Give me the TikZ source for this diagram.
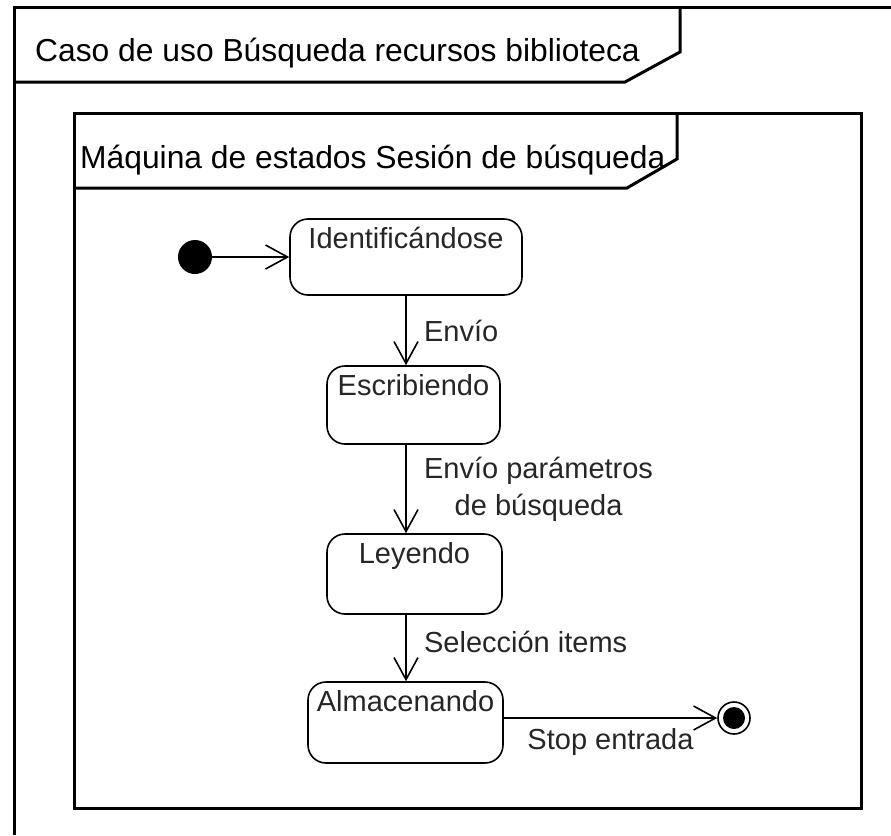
\documentclass[tikz,border=0pt]{standalone}
\usepackage{fontspec}
\setmainfont{Liberation Sans}
\usetikzlibrary{arrows.meta, positioning}

\begin{document}
\begin{tikzpicture}[x=1pt, y=-1pt, >={Straight Barb[length=22pt, width=24pt]},
  frame/.style={line width=3pt},
  titletext/.style={anchor=base west, inner sep=0pt, font=\fontsize{31.8}{36}\selectfont},
  state/.style={draw, line width=1.6pt, rounded corners=18pt, inner sep=0pt},
  statename/.style={anchor=base, yshift=-30pt, font=\fontsize{29}{34}\selectfont, text=black!85},
  trans/.style={->, line width=1.6pt},
  translabel/.style={font=\fontsize{29}{37}\selectfont, text=black!85, align=center}]
  \useasboundingbox (0,0) rectangle (891,835);
  % outer frame with its tab
  \draw[frame] (891,7) -- (14,7) -- (14,835);
  \draw[frame] (14,82) -- (625,82) -- (680,52) -- (680,7);
  \node[titletext] (caso) at (35,61) {Caso de uso Búsqueda recursos biblioteca};
  % state machine frame
  \draw[frame] (74,113) rectangle (861,808);
  \draw[frame] (74,188) -- (627,188) -- (677,159) -- (677,113);
  \node[titletext] (maquina) at (80,168) {Máquina de estados Sesión de búsqueda};
  % initial and final states
  \node[circle, fill, inner sep=0pt, minimum size=34pt] (ini) at (195,257) {};
  \node[circle, draw, line width=1.6pt, inner sep=0pt, minimum size=32pt,
    path picture={\fill (path picture bounding box.center) circle (11pt);}] (fin) at (734,718) {};
  % states
  \node[state, minimum width=232pt, minimum height=76pt,
    label={[statename]north:Identificándose}] (ident) at (406,257) {};
  \node[state, minimum width=173pt, minimum height=78pt,
    label={[statename]north:Escribiendo}] (escr) at (413.5,405) {};
  \node[state, minimum width=175pt, minimum height=80pt,
    label={[statename]north:Leyendo}] (ley) at (414.5,574) {};
  \node[state, minimum width=195pt, minimum height=81pt,
    label={[statename]north:Almacenando}] (alm) at (405.5,722.5) {};
  % transitions
  \draw[trans] (ini) -- (ident);
  \draw[trans] (ident.south) -- (ident.south |- escr.north)
    node[midway, right=14pt, translabel] (envio) {Envío};
  \draw[trans] (ident.south |- escr.south) -- (ident.south |- ley.north)
    node[midway, right=14pt, translabel] (parametros) {Envío parámetros\\de búsqueda};
  \draw[trans] (ident.south |- ley.south) -- (ident.south |- alm.north)
    node[midway, right=14pt, yshift=6pt, translabel] (seleccion) {Selección items};
  \draw[trans] (alm.east |- fin) -- (fin)
    node[midway, below=6pt, translabel] (stop) {Stop entrada};
\end{tikzpicture}
\end{document}
